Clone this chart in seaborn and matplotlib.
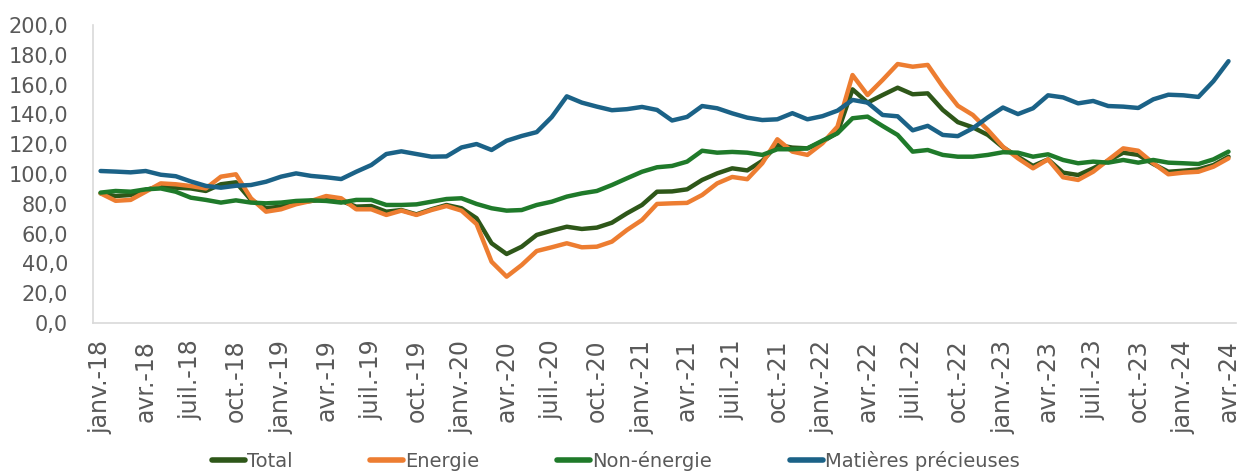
import numpy as np
import pandas as pd
import matplotlib
matplotlib.use("Agg")
import matplotlib.pyplot as plt
import seaborn as sns

# mois janv.-18 -> avr.-24 (76 points)
mois_noms = ["janv.", "févr.", "mars", "avr.", "mai", "juin",
             "juil.", "août", "sept.", "oct.", "nov.", "déc."]
mois = [f"{mois_noms[m]}-{18 + a}" for a in range(7) for m in range(12)][:76]

total = [87.0, 85.2, 85.9, 89.3, 91.9, 90.8, 90.3, 88.6, 93.1, 94.4, 82.6, 77.0,
         78.1, 80.8, 81.9, 83.2, 81.9, 78.1, 78.5, 74.7, 75.8, 72.9, 76.3, 79.2,
         77.0, 70.3, 53.5, 46.3, 51.2, 59.1, 62.0, 64.6, 63.1, 64.0, 67.3, 73.6,
         79.2, 88.1, 88.3, 89.7, 96.0, 100.4, 103.8, 102.4, 108.8, 119.5, 117.7, 117.2,
         121.7, 127.7, 156.8, 147.9, 153.0, 157.9, 153.5, 154.1, 143.0, 134.8, 131.3, 126.2,
         117.9, 111.6, 105.4, 109.8, 100.9, 99.3, 103.8, 108.9, 114.3, 112.8, 106.7, 101.5,
         102.2, 103.1, 106.0, 111.6]

energie = [87.0, 82.0, 82.6, 88.1, 93.7, 93.1, 91.9, 90.3, 98.2, 99.8, 83.7, 74.7,
           76.3, 79.7, 81.9, 85.2, 83.7, 76.3, 76.3, 72.5, 75.4, 72.5, 75.8, 78.5,
           75.4, 66.4, 41.1, 31.1, 38.9, 48.3, 50.8, 53.5, 50.8, 51.2, 54.6, 62.4,
           69.1, 79.9, 80.3, 80.6, 85.9, 93.7, 98.0, 96.5, 107.2, 123.3, 115.0, 112.8,
           120.6, 131.8, 166.4, 153.0, 163.1, 173.8, 172.0, 173.2, 158.6, 145.8, 139.6, 129.5,
           118.3, 110.5, 103.8, 109.8, 97.8, 96.0, 101.5, 109.4, 117.2, 115.6, 107.2, 99.8,
           100.9, 101.5, 104.9, 110.5]

non_energie = [87.5, 88.6, 88.1, 89.7, 90.3, 88.1, 84.1, 82.6, 80.8, 82.3, 80.8, 80.3,
               80.8, 81.9, 82.3, 81.9, 80.8, 82.6, 82.6, 79.2, 79.2, 79.6, 81.4, 83.2,
               83.7, 79.9, 77.0, 75.4, 75.8, 79.2, 81.4, 84.8, 87.0, 88.6, 92.6, 97.1,
               101.5, 104.5, 105.4, 108.3, 115.6, 114.3, 114.8, 114.3, 112.8, 116.6, 116.6, 117.2,
               122.4, 127.3, 137.4, 138.5, 132.2, 126.2, 115.0, 116.1, 112.8, 111.6, 111.6, 112.8,
               114.6, 114.3, 111.6, 113.2, 109.4, 107.2, 108.3, 107.6, 109.4, 107.6, 109.4, 107.6,
               107.2, 106.7, 109.8, 115.0]

precieuses = [102.0, 101.6, 101.1, 102.0, 99.5, 98.5, 95.0, 92.0, 90.8, 92.1, 92.6, 94.8,
              98.2, 100.4, 98.7, 97.8, 96.6, 101.5, 106.0, 113.4, 115.2, 113.4, 111.6, 111.8,
              117.8, 120.1, 116.1, 122.3, 125.5, 128.1, 138.2, 152.1, 147.9, 145.2, 142.8, 143.5,
              145.0, 143.0, 135.9, 138.3, 145.6, 144.1, 140.7, 137.8, 136.2, 136.7, 140.8, 136.7,
              138.8, 142.5, 149.7, 147.9, 139.6, 138.7, 129.3, 132.3, 126.2, 125.4, 130.7, 138.0,
              144.6, 140.2, 144.1, 152.8, 151.4, 147.4, 149.0, 145.6, 145.2, 144.3, 150.1, 153.2,
              152.8, 151.7, 162.3, 175.7]

series = ["Total", "Energie", "Non-énergie", "Matières précieuses"]
couleurs = ["#2E5719", "#ED7D31", "#1F7A2A", "#1B6287"]

df = pd.DataFrame({"idx": np.arange(len(mois)), "Total": total, "Energie": energie,
                   "Non-énergie": non_energie, "Matières précieuses": precieuses})

sns.set_style("white")
plt.rcParams["font.family"] = ["DejaVu Sans"]

fig = plt.figure(figsize=(12.39, 4.74), dpi=100)
ax = fig.add_axes([0.0751, 0.3186, 0.9225, 0.6287])

for nom, c in zip(series, couleurs):
    sns.lineplot(data=df, x="idx", y=nom, ax=ax, color=c, linewidth=3.2,
                 label=nom, solid_joinstyle="round", solid_capstyle="round")

ax.set_xlim(-0.5, len(mois) - 0.5)
ax.set_ylim(0, 200)
ax.set_yticks(np.arange(0, 201, 20))
ax.set_yticklabels([f"{v:.1f}".replace(".", ",") for v in np.arange(0, 201, 20)])

pos = np.arange(0, len(mois), 3)
ax.set_xticks(pos)
ax.set_xticklabels([mois[i] for i in pos], rotation=90, va="top", ha="center")
ax.set_xticks(np.arange(-0.5, len(mois) - 1, 3), minor=True)
ax.tick_params(axis="x", which="major", length=0, pad=12, labelsize=17, colors="#595959")
ax.tick_params(axis="x", which="minor", length=6, width=1.2, color="#D9D9D9")
ax.tick_params(axis="y", length=0, pad=18, labelsize=15, colors="#595959")
ax.set_xlabel("")
ax.set_ylabel("")

for s in ["top", "right"]:
    ax.spines[s].set_visible(False)
for s in ["left", "bottom"]:
    ax.spines[s].set_color("#D9D9D9")
    ax.spines[s].set_linewidth(1.2)

h, l = ax.get_legend_handles_labels()
ax.get_legend().remove()
leg = fig.legend(h, l, loc="center", bbox_to_anchor=(0.497, 0.027), ncol=4, frameon=False,
                 fontsize=14, handlelength=1.7, handletextpad=0.1, columnspacing=4.0)
for t in leg.get_texts():
    t.set_color("#595959")
for ln in leg.get_lines():
    ln.set_linewidth(4)

fig.savefig("out.png", dpi=100)
